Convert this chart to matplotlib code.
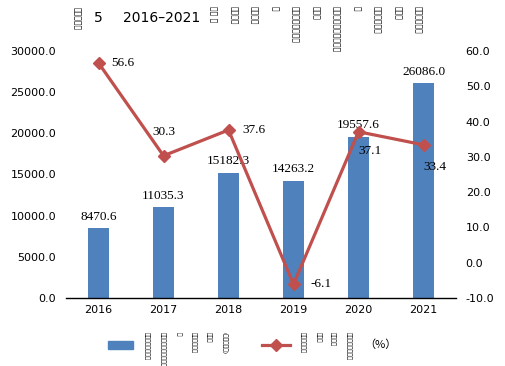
import matplotlib
matplotlib.use("Agg")
import matplotlib.pyplot as plt
from matplotlib.patches import Rectangle
from matplotlib.lines import Line2D

# data
years = ["2016", "2017", "2018", "2019", "2020", "2021"]
values = [8470.6, 11035.3, 15182.3, 14263.2, 19557.6, 26086.0]
growth = [56.6, 30.3, 37.6, -6.1, 37.1, 33.4]

# Mongolian words (written vertically, one column per word)
title_head = "ᠵᠢᠷᠤᠭ"
title_words = ["ᠣᠨ ᠤ", "ᠪᠦᠬᠦ", "ᠣᠷᠣᠨ", "ᠤ", "ᠭᠠᠳᠠᠭᠠᠳᠤ", "ᠶᠢᠨ",
               "ᠬᠤᠳᠠᠯᠳᠤᠭ᠎ᠠ", "ᠤ", "ᠨᠡᠶᠢᠲᠡ", "ᠶᠢᠨ", "ᠥᠰᠦᠯᠲᠡ"]
bar_words = ["ᠭᠠᠳᠠᠭᠠᠳᠤ", "ᠬᠤᠳᠠᠯᠳᠤᠭ᠎ᠠ", "ᠤ", "ᠨᠡᠶᠢᠲᠡ", "ᠳᠦᠩ", "(ᠲᠦᠮᠡᠨ)"]
line_words = ["ᠥᠰᠦᠯᠲᠡ", "ᠶᠢᠨ", "ᠬᠤᠪᠢ", "ᠬᠡᠮᠵᠢᠶ᠎ᠡ"]

bar_color = "#4F81BD"
line_color = "#C0504D"
serif = "Liberation Serif"

fig = plt.figure(figsize=(5.05, 3.66), dpi=100)
ax = fig.add_axes([0.1307, 0.1858, 0.7723, 0.675])
ax2 = ax.twinx()

x = list(range(len(years)))
ax.bar(x, values, width=0.31, color=bar_color, zorder=2)
ax.set_xlim(-0.5, len(years) - 0.5)
ax.set_ylim(0, 30000)
ax.set_yticks(range(0, 30001, 5000))
ax.set_yticklabels([f"{v:.1f}" for v in range(0, 30001, 5000)])
ax.set_xticks(x)
ax.set_xticklabels(years)

ax2.plot(x, growth, color=line_color, lw=2.3, marker="D", ms=6.5, zorder=3)
ax2.set_ylim(-10, 60)
ax2.set_yticks(range(-10, 61, 10))
ax2.set_yticklabels([f"{v:.1f}" for v in range(-10, 61, 10)])

for a in (ax, ax2):
    for s in a.spines.values():
        s.set_visible(False)
    a.tick_params(length=0, labelsize=8)
ax.spines["bottom"].set_visible(True)
ax.spines["bottom"].set_color("black")
ax.spines["bottom"].set_linewidth(1)
ax.tick_params(axis="y", pad=7)
ax.tick_params(axis="x", pad=5)
ax2.tick_params(axis="y", pad=7)

for xi, v in zip(x, values):
    ax.annotate(f"{v:.1f}", (xi, v), xytext=(0, 4), textcoords="offset points",
                ha="center", va="bottom", fontsize=9.5, family=serif)

# label offsets (points) for the growth labels
offs = [(9, 0, "left", "center"), (0, 17, "center", "center"),
        (10, 0, "left", "center"), (12, 0, "left", "center"),
        (0, -14, "left", "center"), (8, -16, "center", "center")]
for xi, g, (dx, dy, ha, va) in zip(x, growth, offs):
    ax2.annotate(f"{g:.1f}", (xi, g), xytext=(dx, dy), textcoords="offset points",
                 ha=ha, va=va, fontsize=9.5, family=serif, zorder=5)

W, H = 505.0, 366.0


def vword(px, py, word, size=5.5):
    fig.text(px / W, 1 - py / H, word, rotation=270, ha="center", va="top",
             fontsize=size)


# title
vword(77, 7, title_head)
fig.text(98 / W, 1 - 18 / H, "5", fontsize=10, ha="center", va="center")
fig.text(123 / W, 1 - 18 / H, "2016–2021", fontsize=10, ha="left", va="center")
for i, w in enumerate(title_words):
    vword(213 + i * 20.5, 6, w)

# legend
fig.patches.append(Rectangle((108 / W, 1 - 349 / H), 25 / W, 8 / H,
                             transform=fig.transFigure, color=bar_color))
for i, w in enumerate(bar_words):
    vword(147 + i * 15.5, 332, w, size=4.2)
fig.lines.append(Line2D([262 / W, 290 / W], [1 - 345 / H] * 2, transform=fig.transFigure,
                        color=line_color, lw=2.3))
fig.lines.append(Line2D([276 / W], [1 - 345 / H], transform=fig.transFigure,
                        color=line_color, marker="D", ms=6.5, lw=0))
for i, w in enumerate(line_words):
    vword(303 + i * 15, 332, w, size=4.2)
fig.text(380 / W, 1 - 345 / H, "（%）", fontsize=8, ha="center", va="center",
         family=["Noto Sans CJK SC", "DejaVu Sans"])

fig.savefig("out.png", dpi=100)
